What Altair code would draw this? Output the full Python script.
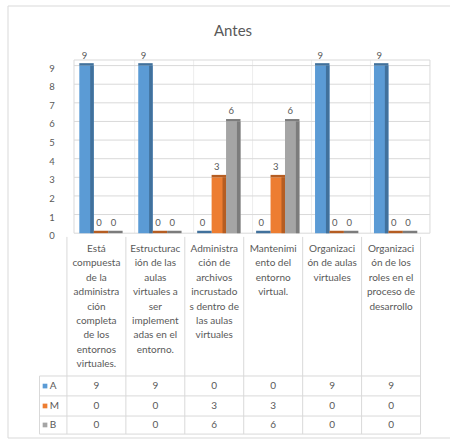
import altair as alt
import pandas as pd

# ---- data -------------------------------------------------------------
categories = [
    "Está compuesta de la administración completa de los entornos virtuales.",
    "Estructuración de las aulas virtuales a ser implementadas en el entorno.",
    "Administración de archivos incrustados dentro de las aulas virtuales",
    "Mantenimiento del entorno virtual.",
    "Organización de aulas virtuales",
    "Organización de los roles en el proceso de desarrollo",
]
# wrapped category text as it appears in the data table
category_lines = [
    ["Está", "compuesta", "de la", "administra", "ción", "completa", "de los", "entornos", "virtuales."],
    ["Estructurac", "ión de las", "aulas", "virtuales a", "ser", "implement", "adas en el", "entorno."],
    ["Administra", "ción de", "archivos", "incrustado", "s dentro de", "las aulas", "virtuales"],
    ["Mantenimi", "ento del", "entorno", "virtual."],
    ["Organizaci", "ón de aulas", "virtuales"],
    ["Organizaci", "ón de los", "roles en el", "proceso de", "desarrollo"],
]
series = ["A", "M", "B"]
values_A = [9, 9, 0, 0, 9, 9]
values_M = [0, 0, 3, 3, 0, 0]
values_B = [0, 0, 6, 6, 0, 0]
y_ticks = [0, 1, 2, 3, 4, 5, 6, 7, 8, 9]

# ---- styling / layout -------------------------------------------------
face = {"A": "#5B9BD5", "M": "#ED7D31", "B": "#A5A5A5"}
side = {"A": "#41719C", "M": "#B55D22", "B": "#7C7C7C"}
TXT = "#595959"
LINE = "#D9D9D9"
FONT = "Lato"

W, H = 442, 432
X_DOM = [-1.0, 6.5]          # one unit per category column
Y_DOM = [-11.0, 12.2]        # value units; table sits below zero
BAR_START, BAR_W, SIDE_W, CAP_H = 0.21, 0.245, 0.06, 0.13
WALL_X0, WALL_X1, WALL_TOP = 0.12, 6.16, 9.3
TABLE_LEFT = -0.465
ROW_LINES = [-7.67, -8.74, -9.82, -10.79]
ROW_TEXT = [-8.21, -9.28, -10.30]
LABEL_TOP, LABEL_STEP = -0.85, 0.773

xs = alt.Scale(domain=X_DOM, nice=False, zero=False)
ys = alt.Scale(domain=Y_DOM, nice=False, zero=False)

values = {"A": values_A, "M": values_M, "B": values_B}

# bars
bar_rows = []
for i in range(len(categories)):
    for j, s in enumerate(series):
        x0 = i + BAR_START + j * BAR_W
        v = values[s][i]
        bar_rows.append({
            "cat": i, "serie": s, "value": v, "base": 0,
            "x0": x0, "x1": x0 + BAR_W, "xs": x0 + BAR_W - SIDE_W,
            "xc": x0 + BAR_W / 2, "cap": v + CAP_H,
            "face": face[s], "side": side[s], "label": str(v),
        })
bars = pd.DataFrame(bar_rows)

base = alt.Chart(bars)
bar_face = base.mark_rect().encode(
    x=alt.X("x0:Q", scale=xs, axis=None), x2="x1:Q",
    y=alt.Y("value:Q", scale=ys, axis=None), y2="base:Q",
    fill=alt.Fill("face:N", scale=None, legend=None),
)
bar_side = base.mark_rect().encode(
    x=alt.X("xs:Q", scale=xs, axis=None), x2="x1:Q",
    y=alt.Y("value:Q", scale=ys, axis=None), y2="base:Q",
    fill=alt.Fill("side:N", scale=None, legend=None),
)
bar_cap = base.mark_rect().encode(
    x=alt.X("x0:Q", scale=xs, axis=None), x2="x1:Q",
    y=alt.Y("value:Q", scale=ys, axis=None), y2="cap:Q",
    fill=alt.Fill("side:N", scale=None, legend=None),
)
bar_text = base.mark_text(font=FONT, fontSize=9.5, color=TXT, dy=-10, dx=-2,
                          baseline="middle").encode(
    x=alt.X("xc:Q", scale=xs, axis=None), y=alt.Y("value:Q", scale=ys, axis=None),
    text="label:N",
)

# back wall gridlines and frame
grid = pd.DataFrame({"v": y_ticks + [WALL_TOP], "x0": WALL_X0, "x1": WALL_X1})
grid_rules = alt.Chart(grid).mark_rule(color=LINE, strokeWidth=1).encode(
    x=alt.X("x0:Q", scale=xs, axis=None), x2="x1:Q",
    y=alt.Y("v:Q", scale=ys, axis=None),
)
walls = pd.DataFrame({"c": [WALL_X0, WALL_X1], "y0": 0.0, "y1": WALL_TOP})
wall_rules = alt.Chart(walls).mark_rule(color=LINE).encode(
    x=alt.X("c:Q", scale=xs, axis=None),
    y=alt.Y("y0:Q", scale=ys, axis=None), y2="y1:Q",
)
vgrid = pd.DataFrame({"c": [i + 0.15 for i in range(1, 6)], "y0": 0.0, "y1": WALL_TOP})
vgrid_rules = alt.Chart(vgrid).mark_rule(color="#EDEDED").encode(
    x=alt.X("c:Q", scale=xs, axis=None),
    y=alt.Y("y0:Q", scale=ys, axis=None), y2="y1:Q",
)
ticks = pd.DataFrame({"v": y_ticks, "x": -0.253})
ytick_text = alt.Chart(ticks).mark_text(font=FONT, fontSize=9.5, color=TXT, dy=3,
                                        baseline="middle").encode(
    x=alt.X("x:Q", scale=xs, axis=None), y=alt.Y("v:Q", scale=ys, axis=None),
    text="v:Q",
)

# data table: grid lines
hl = pd.DataFrame({"y": ROW_LINES, "x0": TABLE_LEFT, "x1": 6.0})
table_h = alt.Chart(hl).mark_rule(color=LINE).encode(
    x=alt.X("x0:Q", scale=xs, axis=None), x2="x1:Q",
    y=alt.Y("y:Q", scale=ys, axis=None),
)
vl = pd.DataFrame({
    "x": [float(i) for i in range(0, 7)] + [TABLE_LEFT],
    "y0": [-0.2] * 7 + [ROW_LINES[0]],
    "y1": ROW_LINES[-1],
})
table_v = alt.Chart(vl).mark_rule(color=LINE).encode(
    x=alt.X("x:Q", scale=xs, axis=None),
    y=alt.Y("y0:Q", scale=ys, axis=None), y2="y1:Q",
)

# data table: category headers
lab_rows = []
for i, lines in enumerate(category_lines):
    for k, t in enumerate(lines):
        lab_rows.append({"x": i + 0.5, "y": LABEL_TOP - k * LABEL_STEP, "t": t})
cat_text = alt.Chart(pd.DataFrame(lab_rows)).mark_text(
    font=FONT, fontSize=10, color=TXT, baseline="middle"
).encode(x=alt.X("x:Q", scale=xs, axis=None), y=alt.Y("y:Q", scale=ys, axis=None),
         text="t:N")

# data table: values
val_rows = []
for r, s in enumerate(series):
    for i in range(len(categories)):
        val_rows.append({"x": i + 0.5, "y": ROW_TEXT[r], "t": str(values[s][i])})
val_text = alt.Chart(pd.DataFrame(val_rows)).mark_text(
    font=FONT, fontSize=10, color=TXT, baseline="middle"
).encode(x=alt.X("x:Q", scale=xs, axis=None), y=alt.Y("y:Q", scale=ys, axis=None),
         text="t:N")

# data table: legend keys
leg = pd.DataFrame({"s": series, "y": ROW_TEXT, "c": [face[s] for s in series],
                    "xk": -0.372, "xt": -0.29})
leg_key = alt.Chart(leg).mark_square(size=22, opacity=1).encode(
    x=alt.X("xk:Q", scale=xs, axis=None), y=alt.Y("y:Q", scale=ys, axis=None),
    fill=alt.Fill("c:N", scale=None, legend=None),
)
leg_text = alt.Chart(leg).mark_text(font=FONT, fontSize=10, color=TXT, align="left",
                                    baseline="middle").encode(
    x=alt.X("xt:Q", scale=xs, axis=None), y=alt.Y("y:Q", scale=ys, axis=None),
    text="s:N",
)

# chart title
title = alt.Chart(pd.DataFrame({"t": ["Antes"]})).mark_text(
    font=FONT, fontSize=15, color=TXT, baseline="middle"
).encode(x=alt.value(225), y=alt.value(25), text="t:N")

# outer chart border (left, top, bottom)
frame = pd.DataFrame({"a": [0]})
border_l = alt.Chart(frame).mark_rule(color=LINE).encode(
    x=alt.value(0), y=alt.value(0), y2=alt.value(H))
border_t = alt.Chart(frame).mark_rule(color=LINE).encode(
    x=alt.value(0), x2=alt.value(W), y=alt.value(0))
border_b = alt.Chart(frame).mark_rule(color=LINE).encode(
    x=alt.value(0), x2=alt.value(W), y=alt.value(H))

chart = alt.layer(
    border_l, border_t, border_b,
    vgrid_rules, grid_rules, wall_rules, ytick_text,
    table_h, table_v, cat_text, val_text, leg_key, leg_text,
    bar_face, bar_side, bar_cap, bar_text, title,
).properties(
    width=W, height=H,
    autosize=alt.AutoSizeParams(type="none"),
    padding={"left": 8, "top": 6, "right": 1, "bottom": 4},
    background="white",
).configure_view(strokeWidth=0)

chart.save("out.html", embed_options={"renderer": "svg", "actions": False})
